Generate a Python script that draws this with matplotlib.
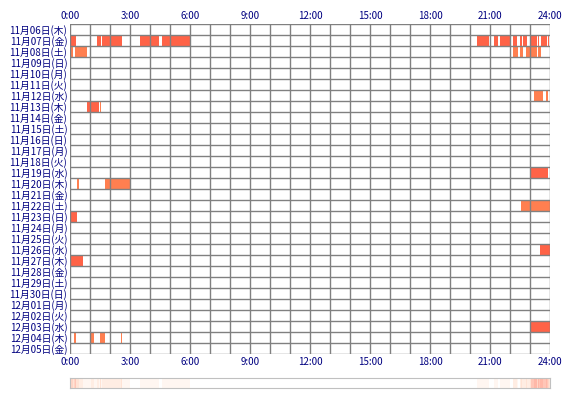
import matplotlib
matplotlib.use("Agg")
import matplotlib.pyplot as plt
import numpy as np
from matplotlib.colors import LinearSegmentedColormap

plt.rcParams['font.family'] = ['Noto Sans CJK JP', 'DejaVu Sans']

days = ["11月06日(木)","11月07日(金)","11月08日(土)","11月09日(日)","11月10日(月)","11月11日(火)",
        "11月12日(水)","11月13日(木)","11月14日(金)","11月15日(土)","11月16日(日)","11月17日(月)",
        "11月18日(火)","11月19日(水)","11月20日(木)","11月21日(金)","11月22日(土)","11月23日(日)",
        "11月24日(月)","11月25日(火)","11月26日(水)","11月27日(木)","11月28日(金)","11月29日(土)",
        "11月30日(日)","12月01日(月)","12月02日(火)","12月03日(水)","12月04日(木)","12月05日(金)"]
tick_labels = ["0:00","3:00","6:00","9:00","12:00","15:00","18:00","21:00","24:00"]

# (day index, start hour, end hour, kind) kind 0=tomato, 1=coral
segments = [
    (1,0.0,0.3,0),(1,1.33,1.53,0),(1,1.6,2.58,0),(1,3.5,4.43,0),(1,4.6,6.0,0),
    (1,20.35,20.95,0),(1,21.2,21.4,0),(1,21.5,22.0,0),(1,22.15,22.35,0),(1,22.5,22.6,0),
    (1,22.65,22.85,0),(1,23.0,23.35,0),(1,23.4,23.45,0),(1,23.55,23.85,0),(1,23.9,23.95,0),
    (2,0.0,0.15,1),(2,0.23,0.83,1),(2,22.15,22.4,1),(2,22.5,22.65,1),(2,22.8,23.0,1),
    (2,23.05,23.35,1),(2,23.4,23.55,1),
    (6,23.2,23.65,1),(6,23.8,23.9,1),
    (7,0.83,1.33,0),(7,1.37,1.47,0),(7,1.5,1.55,1),
    (13,23.0,23.9,0),
    (14,0.35,0.45,1),(14,1.75,3.0,1),
    (16,22.55,24.0,1),
    (17,0.05,0.35,0),
    (20,23.5,24.0,0),
    (21,0.05,0.65,0),
    (27,23.05,24.0,0),
    (28,0.2,0.3,1),(28,1.05,1.2,1),(28,1.5,1.75,1),(28,2.55,2.6,1),
]
colors = ["#ff6347", "#ff7f50"]

fig = plt.figure(figsize=(5.7,4.0), dpi=100)
ax = fig.add_axes([70/570, 1-354/400, 480/570, 330/400])
n = len(days)
for d, s, e, k in segments:
    ax.barh(d, e-s, left=s, height=1.0, color=colors[k], linewidth=0, zorder=1)
ax.set_xlim(0,24); ax.set_ylim(n-0.5,-0.5)
for h in range(25):
    ax.axvline(h, color="#808080", lw=1.0, zorder=2)
for i in range(n+1):
    ax.axhline(i-0.5, color="#808080", lw=1.0, zorder=2)
ax.set_yticks(range(n)); ax.set_yticklabels(days, fontsize=7, color="#000080")
ax.set_xticks(range(0,25,3)); ax.set_xticklabels(tick_labels, fontsize=7, color="#000080")
ax.tick_params(length=0, pad=2, labeltop=True, labelbottom=True)
for s in ax.spines.values(): s.set_visible(False)

# aggregate strip
bins = np.zeros(24*20)
t = (np.arange(480)+0.5)/20
for d, s, e, k in segments:
    bins[(t>=s)&(t<e)] += 1
ax2 = fig.add_axes([70/570, 1-388/400, 480/570, 10/400])
cmap = LinearSegmentedColormap.from_list("c", ["#ffffff", "#ffe4d6", "#ffb8a8"])
ax2.imshow(bins[None,:], aspect="auto", cmap=cmap, vmin=0, vmax=bins.max(), extent=[0,24,0,1])
ax2.set_xticks([]); ax2.set_yticks([])
for s in ax2.spines.values(): s.set_color("#c0c0c0")
fig.savefig("out.png", dpi=100)
